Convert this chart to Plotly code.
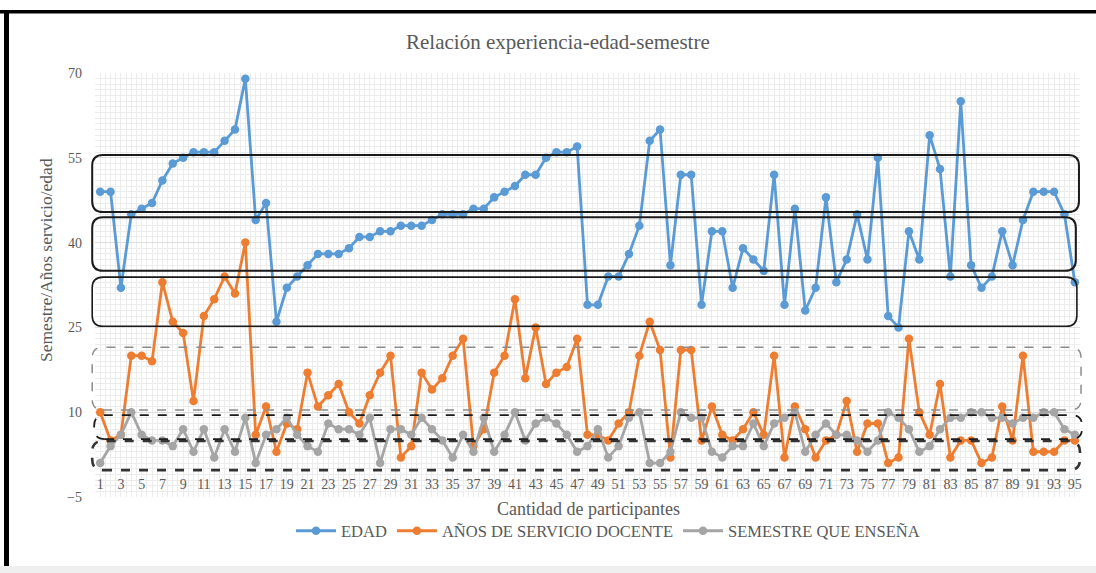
import plotly.graph_objects as go

# ---------------- data ----------------
participantes = list(range(1, 96))

edad = [49, 49, 32, 45, 46, 47, 51, 54, 55, 56, 56, 56, 58, 60, 69, 44, 47, 26, 32, 34,
        36, 38, 38, 38, 39, 41, 41, 42, 42, 43, 43, 43, 44, 45, 45, 45, 46, 46, 48, 49,
        50, 52, 52, 55, 56, 56, 57, 29, 29, 34, 34, 38, 43, 58, 60, 36, 52, 52, 29, 42,
        42, 32, 39, 37, 35, 52, 29, 46, 28, 32, 48, 33, 37, 45, 37, 55, 27, 25, 42, 37,
        59, 53, 34, 65, 36, 32, 34, 42, 36, 44, 49, 49, 49, 45, 33]

anios_servicio = [10, 5, 6, 20, 20, 19, 33, 26, 24, 12, 27, 30, 34, 31, 40, 6, 11, 3, 8, 7,
                  17, 11, 13, 15, 10, 8, 13, 17, 20, 2, 4, 17, 14, 16, 20, 23, 4, 7, 17, 20,
                  30, 16, 25, 15, 17, 18, 23, 6, 6, 5, 8, 10, 20, 26, 21, 2, 21, 21, 5, 11,
                  6, 5, 7, 10, 6, 20, 2, 11, 7, 2, 5, 6, 12, 3, 8, 8, 1, 2, 23, 10,
                  6, 15, 2, 5, 5, 1, 2, 11, 5, 20, 3, 3, 3, 5, 5]

semestre = [1, 4, 6, 10, 6, 5, 5, 4, 7, 3, 7, 2, 7, 3, 9, 1, 6, 7, 9, 6,
            4, 3, 8, 7, 7, 6, 9, 1, 7, 7, 6, 9, 7, 5, 2, 6, 3, 9, 3, 6,
            10, 5, 8, 9, 8, 6, 3, 4, 7, 2, 4, 9, 10, 1, 1, 3, 10, 9, 9, 3,
            2, 4, 4, 8, 4, 8, 9, 10, 3, 6, 8, 6, 6, 5, 3, 5, 10, 9, 7, 3,
            4, 7, 9, 9, 10, 10, 9, 9, 8, 9, 9, 10, 10, 7, 6]

x_tick_vals = list(range(1, 96, 2))
x_tick_text = [str(v) for v in x_tick_vals]
y_tick_vals = [-5, 10, 25, 40, 55, 70]

series_names = ["EDAD", "AÑOS DE SERVICIO DOCENTE", "SEMESTRE QUE ENSEÑA"]
series_colors = ["#5B9BD5", "#ED7D31", "#A5A5A5"]

# ---------------- figure ----------------
W, H = 1096, 573
ML, MR, MT, MB = 95, 16, 73, 76
YMIN, YMAX = -5, 70
XMIN, XMAX = 0.5, 95.5
FONT = "Liberation Serif"
TXT = "#595959"

fig = go.Figure()
for name, vals, col in zip(series_names, [edad, anios_servicio, semestre], series_colors):
    fig.add_trace(go.Scatter(
        x=participantes, y=vals, name=name, mode="lines+markers",
        line=dict(color=col, width=2.8),
        marker=dict(color=col, size=8.5, symbol="circle"),
        cliponaxis=False,
    ))

pw = W - ML - MR
ph = H - MT - MB


def px_x(p):
    return (p - ML) / pw


def px_y(p):
    return (H - MB - p) / ph


def dx(v):
    return (v - XMIN) / (XMAX - XMIN)


def dy(v):
    return (v - YMIN) / (YMAX - YMIN)


def rounded(x0, x1, y0, y1, r=0.011, ry=None):
    if ry is None:
        ry = r * pw / ph
    return (f"M{x0 + r},{y0} L{x1 - r},{y0} Q{x1},{y0} {x1},{y0 + ry} "
            f"L{x1},{y1 - ry} Q{x1},{y1} {x1 - r},{y1} L{x0 + r},{y1} "
            f"Q{x0},{y1} {x0},{y1 - ry} L{x0},{y0 + ry} Q{x0},{y0} {x0 + r},{y0} Z")


shapes = []
# highlight boxes (value bands), in axis units converted to paper
boxes = [
    (0.23, 95.4, 45.4, 55.5, "#1a1a1a", 2, "solid"),
    (0.23, 95.1, 35.0, 44.5, "#1a1a1a", 2, "solid"),
    (0.23, 95.2, 25.2, 33.9, "#1a1a1a", 1.6, "solid"),
    (0.23, 95.6, 10.4, 21.5, "#8c8c8c", 1.5, "dash"),
    (0.42, 95.7, 5.25, 9.5, "#1a1a1a", 1.8, "dash"),
    (0.23, 95.5, -0.25, 4.9, "#333333", 2.6, "dash"),
]
for x0, x1, y0, y1, c, w, d in boxes:
    shapes.append(dict(type="path", xref="paper", yref="paper",
                       path=rounded(dx(x0), dx(x1), dy(y0), dy(y1)),
                       line=dict(color=c, width=w, dash=d), fillcolor="rgba(0,0,0,0)",
                       layer="above"))

# page frame (black border top/left, grey strip at bottom)
shapes.append(dict(type="rect", xref="paper", yref="paper",
                   x0=px_x(0), x1=px_x(W), y0=px_y(10), y1=px_y(13.5),
                   fillcolor="#000000", line=dict(width=0), layer="above"))
shapes.append(dict(type="rect", xref="paper", yref="paper",
                   x0=px_x(4), x1=px_x(9), y0=px_y(10), y1=px_y(566),
                   fillcolor="#000000", line=dict(width=0), layer="above"))
shapes.append(dict(type="rect", xref="paper", yref="paper",
                   x0=px_x(0), x1=px_x(W), y0=px_y(566), y1=px_y(H),
                   fillcolor="#efefef", line=dict(width=0), layer="below"))

annotations = [
    dict(text="Relación experiencia-edad-semestre", xref="paper", yref="paper",
         x=px_x(558), y=px_y(42), xanchor="center", yanchor="middle", showarrow=False,
         font=dict(family=FONT, size=21, color=TXT)),
    dict(text="Cantidad de participantes", xref="paper", yref="paper",
         x=px_x(588), y=px_y(509), xanchor="center", yanchor="middle", showarrow=False,
         font=dict(family=FONT, size=18, color=TXT)),
    dict(text="Semestre/Años servicio/edad", xref="paper", yref="paper",
         x=px_x(46), y=px_y(260), xanchor="center", yanchor="middle", showarrow=False,
         textangle=-90, font=dict(family=FONT, size=17.5, color=TXT)),
]

fig.update_layout(
    width=W, height=H,
    margin=dict(l=ML, r=MR, t=MT, b=MB, pad=0),
    paper_bgcolor="white", plot_bgcolor="white",
    font=dict(family=FONT, color=TXT),
    showlegend=True,
    legend=dict(orientation="h", x=px_x(608), xanchor="center", y=px_y(531), yanchor="middle",
                font=dict(family=FONT, size=16.5, color=TXT), itemwidth=40,
                bgcolor="rgba(0,0,0,0)", traceorder="normal"),
    shapes=shapes,
    annotations=annotations,
    xaxis=dict(range=[XMIN, XMAX], tickmode="array", tickvals=x_tick_vals, ticktext=x_tick_text,
               showgrid=False, zeroline=False, showline=False, ticks="",
               anchor="free", position=dy(0), ticklabelstandoff=5,
               tickfont=dict(family=FONT, size=14, color=TXT),
               minor=dict(tickmode="linear", tick0=0.5, dtick=0.5, showgrid=True,
                          gridcolor="#ececec", gridwidth=1)),
    yaxis=dict(range=[YMIN, YMAX], tickmode="array", tickvals=y_tick_vals,
               showgrid=True, gridcolor="#dddddd", gridwidth=1, zeroline=False,
               showline=False, ticks="", ticklabelstandoff=12,
               tickfont=dict(family=FONT, size=14, color=TXT),
               minor=dict(tickmode="linear", tick0=0, dtick=1, showgrid=True,
                          gridcolor="#ececec", gridwidth=1)),
)

fig.write_html("out.html", config={"displayModeBar": False},
               post_script="document.body.style.margin='0px';document.body.style.overflow='hidden';")
